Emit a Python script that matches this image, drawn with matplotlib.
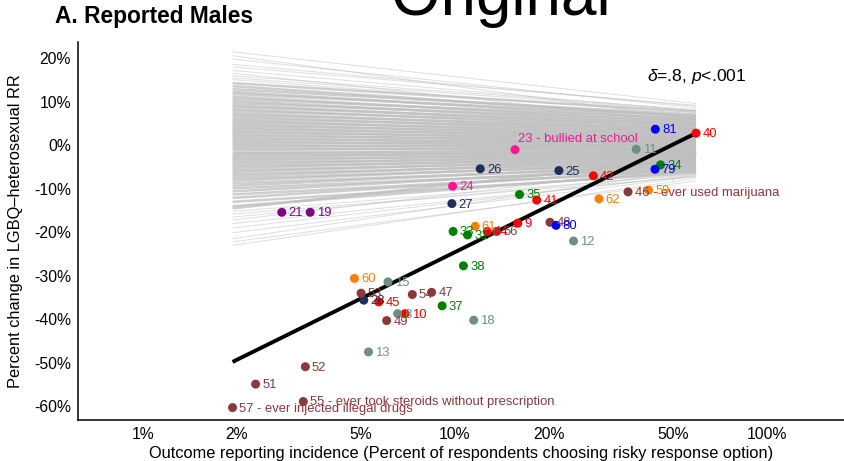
import matplotlib
matplotlib.use("Agg")
import matplotlib.pyplot as plt

plt.rcParams['font.family'] = ['Liberation Sans', 'DejaVu Sans']
plt.rcParams['mathtext.fontset'] = 'custom'
plt.rcParams['mathtext.rm'] = 'Liberation Sans'
plt.rcParams['mathtext.it'] = 'Liberation Sans:italic'

# survey items: number, incidence (% choosing risky option), % change in LGBQ-hetero RR, domain
item_ids = [21, 19, 23, 24, 26, 25, 27, 28, 33, 31, 35, 38, 37, 34,
            40, 42, 41, 9, 44, 45, 10,
            46, 48, 56, 53, 54, 47, 49, 52, 51, 55, 57,
            61, 62, 59, 60, 11, 12, 15, 8, 18, 13, 81, 79, 80]
incidence = [2.79, 3.44, 15.6, 9.84, 12.07, 21.57, 9.79, 5.11, 9.88, 10.99, 16.13, 10.66, 9.11, 45.67,
             59.35, 27.81, 18.31, 15.92, 12.71, 5.71, 6.93,
             35.93, 20.2, 13.61, 5.01, 7.31, 8.43, 6.05, 3.32, 2.30, 3.27, 1.94,
             11.63, 29.0, 41.8, 4.77, 38.16, 24.03, 6.11, 6.56, 11.5, 5.29, 43.95, 43.85, 21.12]
pct_change = [-15.4, -15.4, -1.0, -9.4, -5.4, -5.8, -13.4, -35.6, -19.8, -20.6, -11.3, -27.7, -36.9, -4.5,
              2.8, -7.0, -12.6, -17.9, -19.8, -36.0, -38.7,
              -10.7, -17.7, -19.8, -34.0, -34.3, -33.8, -40.3, -50.9, -54.9, -58.9, -60.3,
              -18.6, -12.3, -10.3, -30.6, -0.9, -22.0, -31.4, -38.7, -40.2, -47.5, 3.7, -5.5, -18.4]
domain = ['purple', 'purple', 'pink', 'pink', 'navy', 'navy', 'navy', 'navy',
          'green', 'green', 'green', 'green', 'green', 'green',
          'red', 'red', 'red', 'red', 'red', 'red', 'red',
          'maroon', 'maroon', 'maroon', 'maroon', 'maroon', 'maroon', 'maroon', 'maroon', 'maroon', 'maroon', 'maroon',
          'orange', 'orange', 'orange', 'orange', 'gray', 'gray', 'gray', 'gray', 'gray', 'gray',
          'blue', 'blue', 'blue']
long_labels = {23: '23 - bullied at school',
               46: '46 - ever used marijuana',
               55: '55 - ever took steroids without prescription',
               57: '57 - ever injected illegal drugs'}

colors = {'purple': '#800080', 'pink': '#FF1493', 'navy': '#1F2D5A', 'green': '#008000',
          'red': '#FF0000', 'maroon': '#8B383C', 'orange': '#FF8000', 'gray': '#6F8F84',
          'blue': '#0000FF'}

# fitted line
fit_x = [1.94, 59.35]
fit_y = [-49.8, 2.8]

# permuted null lines (value at left end, value at right end)
null_x = [1.94, 59.35]
null_left = [21.5, 19.8, 18.6, 17.2, 16.0, 15.1, 14.3, 13.6, 12.9, 12.3, 11.8, 11.2, 10.7, 10.2,
             9.7, 9.2, 8.8, 8.3, 7.9, 7.4, 7.0, 6.6, 6.1, 5.7, 5.3, 4.9, 4.5, 4.1, 3.7, 3.3,
             2.9, 2.5, 2.1, 1.7, 1.3, 0.9, 0.5, 0.1, -0.3, -0.7, -1.1, -1.5, -1.9, -2.3, -2.7,
             -3.1, -3.5, -3.9, -4.4, -4.8, -5.2, -5.7, -6.1, -6.6, -7.1, -7.6, -8.1, -8.7, -9.3,
             -9.9, -10.6, -11.3, -12.1, -13.0, -14.0, -15.2, -16.5, -18.0, -20.1, -23.0,
             20.6, 18.0, 16.6, 15.5, -14.5, -15.8, -17.2, -19.0, -21.5, -22.2]
null_right = [9.6, 8.6, 9.0, 7.9, 8.2, 7.2, 7.7, 6.5, 7.0, 5.9, 6.7, 5.3, 6.1, 4.8,
              5.6, 4.3, 5.0, 3.8, 4.6, 3.3, 4.0, 2.8, 3.6, 2.3, 3.1, 1.8, 2.6, 1.4, 2.1, 1.0,
              1.6, 0.5, 1.2, 0.1, 0.7, -0.3, 0.4, -0.7, 0.0, -1.1, -0.4, -1.5, -0.8, -1.9, -1.2,
              -2.3, -1.6, -2.7, -2.0, -3.1, -2.4, -3.5, -2.8, -3.9, -3.3, -4.3, -3.8, -4.8, -4.3,
              -5.3, -4.8, -5.8, -5.3, -6.3, -5.9, -6.7, -6.4, -7.0, -7.2, -7.6,
              6.0, 9.2, 5.2, 8.0, -3.0, -7.2, -4.6, -6.8, -5.5, -8.2]

x_ticks = [1, 2, 5, 10, 20, 50, 100]
x_ticklabels = ['1%', '2%', '5%', '10%', '20%', '50%', '100%']
y_ticks = [-60, -50, -40, -30, -20, -10, 0, 10, 20]
y_ticklabels = ['-60%', '-50%', '-40%', '-30%', '-20%', '-10%', '0%', '10%', '20%']

fig = plt.figure(figsize=(8.44, 4.61), dpi=100)
ax = fig.add_axes([78 / 844, 1 - 420 / 461, (844 - 78) / 844, (420 - 42) / 461])

for l, r in zip(null_left, null_right):
    core = abs(l) < 15
    ax.plot(null_x, [l, r], color='#bebebe', lw=1.8 if core else 0.7,
            alpha=0.75 if core else 0.5, solid_capstyle='butt', zorder=1)

ax.plot(fit_x, fit_y, color='black', lw=2.8, solid_capstyle='butt', zorder=2)

ax.scatter(incidence, pct_change, c=[colors[d] for d in domain], s=42, linewidths=0, zorder=3)
for i, x, y, d in zip(item_ids, incidence, pct_change, domain):
    txt = long_labels.get(i, str(i))
    off = (2.4, 7.7) if i == 23 else (4.8, -0.7)
    ax.annotate(txt, (x, y), xytext=off, textcoords='offset points', color=colors[d],
                fontsize=9.4, ha='left', va='center', zorder=4)

ax.text(41.25, 15.8, r'$\delta$=.8, $p$<.001', fontsize=12.6, ha='left', va='center')

ax.set_xscale('log')
ax.set_xlim(0.62, 176.9)
ax.set_ylim(-63.15, 23.75)
ax.set_xticks(x_ticks)
ax.set_xticklabels(x_ticklabels)
ax.minorticks_off()
ax.set_yticks(y_ticks)
ax.set_yticklabels(y_ticklabels)
ax.tick_params(length=0, labelsize=11.3, pad=5)

for s in ['top', 'right']:
    ax.spines[s].set_visible(False)
for s in ['left', 'bottom']:
    ax.spines[s].set_linewidth(1.1)

ax.set_xlabel('Outcome reporting incidence (Percent of respondents choosing risky response option)',
              fontsize=11.8, labelpad=3)
ax.set_ylabel('Percent change in LGBQ\u2013heterosexual RR', fontsize=11.8, labelpad=8)

fig.text(55 / 844, 1 - 17 / 461, 'A. Reported Males', fontsize=16.4, fontweight='bold',
         ha='left', va='center')
fig.text(501 / 844, 1 - 15 / 461, 'Original', fontsize=46, ha='center', va='baseline')

fig.savefig('out.png', dpi=100)
